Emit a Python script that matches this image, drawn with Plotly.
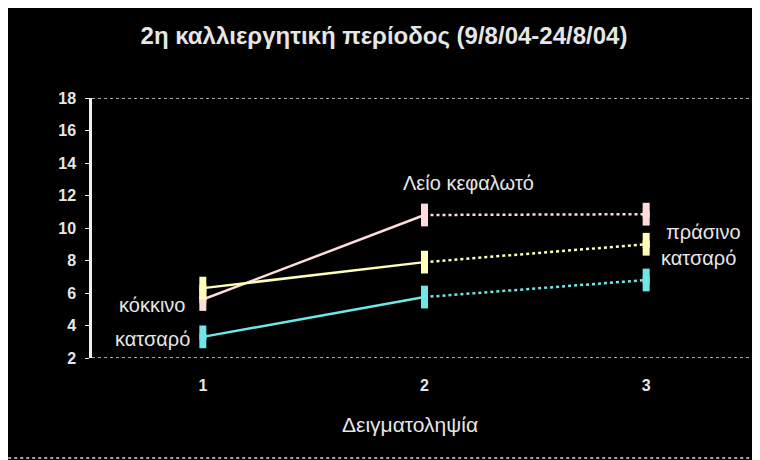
import plotly.graph_objects as go

# sampling rounds
rounds = [1, 2, 3]
# series values
leio_kefaloto = [5.6, 10.8, 10.85]
prasino_katsaro = [6.3, 7.9, 9.0]
kokkino_katsaro = [3.3, 5.75, 6.8]
y_ticks = [2, 4, 6, 8, 10, 12, 14, 16, 18]

series = [
    (leio_kefaloto, "#FFDCDC"),
    (prasino_katsaro, "#FFFFB8"),
    (kokkino_katsaro, "#70E6E6"),
]

fig = go.Figure()
for vals, col in series:
    # first segment solid
    fig.add_trace(go.Scatter(
        x=rounds[:2], y=vals[:2], mode="lines",
        line=dict(color=col, width=2.5), showlegend=False, hoverinfo="skip"))
    # second segment dotted
    fig.add_trace(go.Scatter(
        x=rounds[1:], y=vals[1:], mode="lines",
        line=dict(color=col, width=2.5, dash="dot"), showlegend=False, hoverinfo="skip"))
    # markers with short vertical bars
    fig.add_trace(go.Scatter(
        x=rounds, y=vals, mode="markers",
        marker=dict(symbol="square", size=7, color=col),
        error_y=dict(type="constant", value=0.7, color=col, thickness=7, width=0),
        showlegend=False))

txt = dict(family="Liberation Sans", color="#E6E6E6")
fig.add_annotation(x=2.2, y=12.75, text="Λείο κεφαλωτό", showarrow=False,
                   font=dict(size=20, **txt))
fig.add_annotation(x=0.93, y=5.25, text="κόκκινο", showarrow=False, xanchor="right",
                   font=dict(size=20, **txt))
fig.add_annotation(x=0.95, y=3.2, text="κατσαρό", showarrow=False, xanchor="right",
                   font=dict(size=20, **txt))
fig.add_annotation(x=3.08, y=9.75, text="πράσινο", showarrow=False, xanchor="left",
                   font=dict(size=20, **txt))
fig.add_annotation(x=3.06, y=8.15, text="κατσαρό", showarrow=False, xanchor="left",
                   font=dict(size=20, **txt))
# axis title, sits a little left of the plot centre
fig.add_annotation(x=0.478, y=-0.255, xref="paper", yref="paper", text="Δειγματοληψία",
                   showarrow=False, yanchor="middle", font=dict(size=21, **txt))

# dotted frame lines at top and bottom of the plot area
for yv in (2, 18):
    fig.add_shape(type="line", xref="paper", yref="y", x0=0, x1=1, y0=yv, y1=yv,
                  line=dict(color="#DDDDDD", width=1.5, dash="dot"))
# outer chart border
fig.add_shape(type="line", xref="paper", yref="paper", x0=1, x1=1, y0=-0.385, y1=1.37,
              line=dict(color="#DDDDDD", width=2))
fig.add_shape(type="line", xref="paper", yref="paper", x0=-0.135, x1=1, y0=-0.385, y1=-0.385,
              line=dict(color="#DDDDDD", width=1.5, dash="dot"))

# page body has an 8px margin, so the figure is a bit smaller than the window
fig.update_layout(
    width=752, height=452,
    paper_bgcolor="black", plot_bgcolor="black",
    margin=dict(l=84, r=3, t=90, b=102),
    title=dict(text="<b>2η καλλιεργητική περίοδος (9/8/04-24/8/04)</b>",
               x=0.5, xref="container", xanchor="center", y=0.94, yanchor="middle",
               font=dict(size=24, **txt)),
    xaxis=dict(range=[0.5, 3.5], tickvals=rounds, ticktext=[str(r) for r in rounds],
               showgrid=False, zeroline=False, showline=False, ticks="",
               ticklabelstandoff=16,
               tickfont=dict(size=16, family="Liberation Sans", color="#E6E6E6", weight="bold")),
    yaxis=dict(range=[2, 18], tickvals=y_ticks, showgrid=False, zeroline=False,
               showline=True, linecolor="#EEEEEE", linewidth=2.5,
               ticks="outside", ticklen=4, tickcolor="#EEEEEE", ticklabelstandoff=6,
               tickfont=dict(size=16, family="Liberation Sans", color="#E6E6E6", weight="bold")),
)

fig.write_html("out.html")
